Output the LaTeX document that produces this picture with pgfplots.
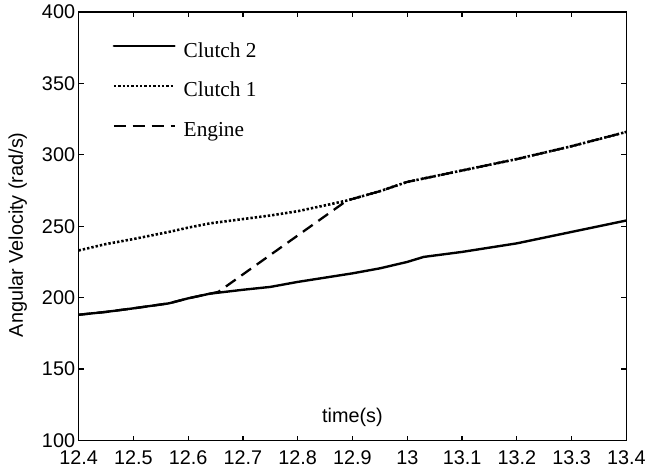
\documentclass[border=0pt]{standalone}
\usepackage{fontspec}
\setmainfont{Liberation Serif}
\newfontfamily\arial{Liberation Sans}
\usepackage{pgfplots}
\pgfplotsset{compat=1.18}

% Angular velocities around the shift (time in s, velocity in rad/s)
\pgfplotstableread{
t       w
12.400  188.0
12.450  190.0
12.500  192.5
12.565  196.0
12.600  199.5
12.640  202.8
12.700  205.5
12.750  207.5
12.800  211.0
12.850  214.0
12.900  217.0
12.950  220.5
13.000  225.0
13.030  228.5
13.100  232.0
13.150  235.0
13.200  238.0
13.250  242.0
13.300  246.0
13.350  250.0
13.400  254.0
}\clutchtwo

\pgfplotstableread{
t       w
12.400  233.0
12.450  237.5
12.500  241.0
12.565  246.0
12.600  249.0
12.640  252.0
12.700  255.0
12.750  257.5
12.800  260.5
12.855  265.0
12.890  268.0
12.950  274.5
13.000  281.0
13.050  285.0
13.100  289.0
13.150  293.0
13.200  297.0
13.250  301.5
13.300  306.0
13.350  311.0
13.400  316.0
}\clutchone

\pgfplotstableread{
t       w
12.400  188.0
12.450  190.0
12.500  192.5
12.565  196.0
12.600  199.5
12.655  204.0
12.890  268.0
12.950  274.5
13.000  281.0
13.050  285.0
13.100  289.0
13.150  293.0
13.200  297.0
13.250  301.5
13.300  306.0
13.350  311.0
13.400  316.0
}\engine

\begin{document}
\begin{tikzpicture}
\begin{axis}[
  scale only axis,
  width=551bp, height=431bp,
  xmin=12.4, xmax=13.4, ymin=100, ymax=400,
  xtick={12.4,12.5,12.6,12.7,12.8,12.9,13.0,13.1,13.2,13.3,13.4},
  xticklabels={12.4,12.5,12.6,12.7,12.8,12.9,13,13.1,13.2,13.3,13.4},
  ytick={100,150,200,250,300,350,400},
  yticklabels={100,150,200,250,300,350,400},
  tick align=inside,
  major tick length=5bp,
  every tick/.style={black, line width=1.2bp},
  axis line style={line width=1.5bp},
  ticklabel style={font=\arial\fontsize{20}{24}\selectfont},
  xticklabel style={yshift=-7bp},
  /pgf/number format/assume math mode=true,
  xlabel={time(s)},
  ylabel={Angular Velocity (rad/s)},
  xlabel style={font=\arial\fontsize{20}{24}\selectfont,
    at={(axis description cs:0.5,0.055)}, anchor=center},
  ylabel style={font=\arial\fontsize{20}{24}\selectfont,
    at={(axis description cs:-0.111,0.48)}, anchor=center},
  legend style={draw=none, fill=none,
    at={(axis description cs:0.0617,0.93)}, anchor=north west,
    inner sep=0pt, row sep=20bp, column sep=8bp,
    font=\fontsize{21.5}{25}\selectfont,
    nodes={inner sep=0pt, text height=15bp, text depth=5bp}},
  legend cell align=left,
  legend image code/.code={\draw[#1] (0bp,6bp) -- (61bp,6bp);},
]
\addplot[black, line width=2.4bp, line cap=round] table[x=t, y=w] {\clutchtwo};
\addlegendentry{Clutch 2}
\addplot[black, line width=2.6bp, dash pattern=on 2.4bp off 2bp] table[x=t, y=w] {\clutchone};
\addlegendentry{Clutch 1}
\addplot[black, line width=2.3bp, dash pattern=on 12bp off 7bp] table[x=t, y=w] {\engine};
\addlegendentry{Engine}
\end{axis}
\path (current axis.south west) ++(-79bp,-31bp);
\path (current axis.north east) ++(19bp,12bp);
\end{tikzpicture}
\end{document}
